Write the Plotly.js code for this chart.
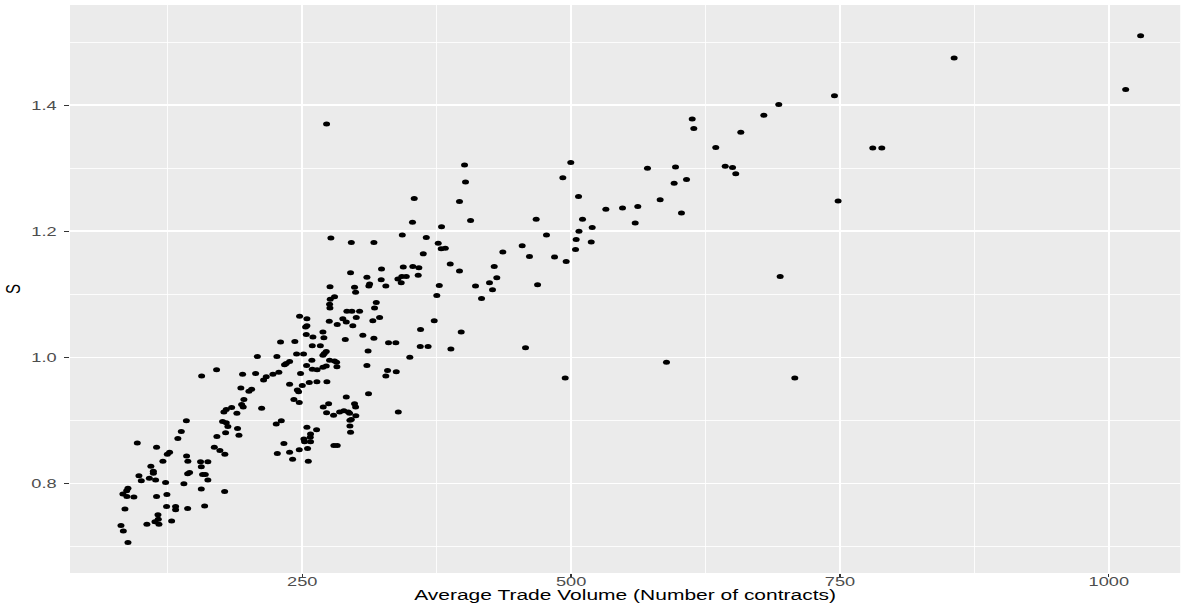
<!DOCTYPE html>
<html>
<head>
<meta charset="utf-8">
<script src="https://cdn.plot.ly/plotly-3.0.1.min.js"></script>
<style>
html,body{margin:0;padding:0;background:#fff;overflow:hidden;width:1187px;height:603px;}
#chart{width:848px;height:603px;transform:scaleX(1.4);transform-origin:0 0;}
</style>
</head>
<body>
<div id="chart"></div>
<script>
// Average trade volume (number of contracts)
const volume = [
142.2,137.5,134.3,96.6,114.5,124.5,126.6,142.4,143.6,120.4,
155.4,156.1,109.2,111.5,111.5,145.2,143.4,157.3,98.1,107.8,
100.3,113.6,122.9,139.9,87.9,86.7,83.2,86.9,93.4,114.5,
124.1,156.1,85.1,123.8,132.2,132.2,143.4,159.2,115.8,116.1,
113.0,116.7,128.5,105.5,81.4,83.6,87.9,
170.3,156.4,194.5,206.6,216.5,214.0,192.9,202.9,200.4,195.7,
193.6,195.1,184.3,179.3,177.1,189.2,212.2,175.9,179.3,180.8,
189.8,178.7,191.1,170.6,168.2,173.4,178.0,162.2,159.8,162.2,177.8,
238.2,250.0,256.5,263.6,272.9,245.4,246.6,242.2,247.2,290.9,
269.5,274.5,272.6,279.1,284.7,288.7,292.8,294.0,298.6,299.6,
299.8,294.3,295.6,294.3,294.9,225.8,230.5,254.3,263.3,257.7,
257.4,257.7,251.5,252.1,232.9,254.9,247.2,238.2,226.8,241.0,
255.6,279.4,282.5,
275.8,276.0,280.0,275.4,275.7,247.5,254.3,254.3,253.1,275.1,
269.2,253.7,259.9,270.1,229.8,243.1,259.3,266.8,272.3,270.5,
269.2,244.7,251.2,208.2,226.4,258.9,238.2,235.1,233.5,254.0,
228.2,222.7,248.4,259.3,263.8,269.2,272.3,275.4,280.0,281.9,282.2,
354.1,352.5,276.6,295.6,316.6,343.0,365.3,362.5,323.7,294.9,
343.9,352.8,358.4,357.8,310.1,323.4,338.9,342.6,346.7,342.0,
312.6,311.9,327.7,
298.6,299.6,318.8,317.2,291.5,296.1,303.3,300.2,287.7,290.9,
321.9,315.6,282.5,297.0,360.0,306.3,316.6,290.0,330.2,337.0,
359.7,367.0,311.2,350.0,310.1,329.3,337.4,327.7,
397.8,388.2,311.6,339.3,
400.9,401.8,499.7,492.3,506.9,396.2,406.5,467.5,379.5,507.3,
477.1,376.4,379.2,383.0,504.7,504.1,454.5,436.5,461.3,484.6,
495.4,387.6,396.2,428.5,430.9,
377.4,411.1,424.1,426.9,468.8,375.1,416.7,372.7,457.6,494.5,
612.6,614.1,657.8,634.5,643.3,650.1,653.1,571.0,597.1,607.3,
595.8,582.8,532.3,547.8,562.0,602.6,510.6,559.6,519.6,518.7,588.7,
1029.6,856.2,1015.7,744.9,693.1,679.2,780.5,788.9,748.3,694.4,708.0,
272.6
];
// S
const sValues = [
0.899,0.882,0.871,0.864,0.857,0.846,0.849,0.843,0.835,0.835,
0.834,0.826,0.827,0.819,0.816,0.817,0.815,0.814,0.812,0.808,
0.804,0.805,0.801,0.799,0.792,0.788,0.783,0.779,0.778,0.779,
0.782,0.791,0.759,0.763,0.763,0.758,0.760,0.764,0.750,0.743,
0.739,0.735,0.740,0.735,0.733,0.724,0.706,
0.980,0.970,0.973,0.974,0.969,0.964,0.951,0.949,0.946,0.933,
0.925,0.921,0.920,0.917,0.913,0.911,0.919,0.898,0.896,0.890,
0.887,0.880,0.876,0.874,0.857,0.852,0.846,0.834,0.814,0.805,0.787,
0.957,0.955,0.960,0.961,0.961,0.948,0.945,0.933,0.928,0.937,
0.921,0.926,0.912,0.908,0.913,0.915,0.913,0.911,0.926,0.921,
0.907,0.900,0.901,0.891,0.881,0.894,0.899,0.889,0.885,0.878,
0.873,0.866,0.870,0.866,0.863,0.855,0.853,0.849,0.847,0.838,
0.835,0.860,0.860,
1.112,1.092,1.096,1.084,1.078,1.065,1.061,1.050,1.048,1.057,
1.040,1.036,1.032,1.031,1.024,1.025,1.018,1.018,1.009,1.006,
1.003,1.005,1.005,1.001,1.001,0.995,0.993,0.990,0.988,0.987,
0.976,0.973,0.974,0.981,0.980,0.984,0.986,0.995,0.994,0.992,0.985,
1.252,1.214,1.189,1.182,1.182,1.194,1.190,1.164,1.140,1.134,
1.143,1.144,1.142,1.130,1.127,1.123,1.124,1.128,1.128,1.118,
1.116,1.113,1.113,
1.111,1.103,1.087,1.078,1.073,1.073,1.073,1.063,1.061,1.056,
1.063,1.058,1.052,1.050,1.044,1.035,1.030,1.028,1.023,1.023,
1.017,1.017,1.010,1.000,0.987,0.979,0.977,0.970,
1.040,1.013,0.942,0.913,
1.305,1.278,1.309,1.285,1.255,1.247,1.217,1.219,1.207,1.200,
1.194,1.181,1.172,1.173,1.187,1.171,1.177,1.167,1.160,1.159,
1.152,1.148,1.137,1.144,1.126,
1.114,1.113,1.118,1.107,1.115,1.098,1.093,1.058,1.015,0.967,
1.378,1.363,1.357,1.333,1.303,1.301,1.291,1.300,1.302,1.282,
1.276,1.250,1.235,1.237,1.239,1.229,1.219,1.213,1.206,1.183,0.992,
1.510,1.475,1.425,1.415,1.401,1.384,1.332,1.332,1.248,1.128,0.967,
1.370
];
const xTicks = [250, 500, 750, 1000];
const xTickLabels = ['250', '500', '750', '1000'];
const xMinor = [125, 375, 625, 875];
const yTicks = [0.8, 1.0, 1.2, 1.4];
const yTickLabels = ['0.8', '1.0', '1.2', '1.4'];
const yMinor = [0.7, 0.9, 1.1, 1.3, 1.5];
const xTitle = 'Average Trade Volume (Number of contracts)';
const yTitle = 'S';

const trace = {
  type: 'scatter', mode: 'markers',
  x: volume, y: sValues,
  marker: {color: '#000000', size: 5, line: {width: 0}},
  hoverinfo: 'skip'
};

const axisCommon = {
  tickmode: 'array',
  ticks: 'outside', ticklen: 3, tickwidth: 1, tickcolor: '#333333',
  tickfont: {size: 13, color: '#4D4D4D'},
  showgrid: true, gridcolor: '#FFFFFF', gridwidth: 1.4,
  zeroline: false, showline: false, automargin: false
};

const layout = {
  width: 848, height: 603,
  margin: {l: 50, r: 5, t: 5, b: 30, pad: 0},
  paper_bgcolor: '#FFFFFF', plot_bgcolor: '#EBEBEB',
  font: {family: 'Liberation Sans, Arial, sans-serif', color: '#000000'},
  showlegend: false,
  xaxis: Object.assign({}, axisCommon, {
    range: [34, 1066.4],
    tickvals: xTicks, ticktext: xTickLabels,
    ticklabelstandoff: -7,
    minor: {tickmode: 'array', tickvals: xMinor, showgrid: true, gridcolor: '#FFFFFF', gridwidth: 0.7, ticks: ''},
    title: {text: xTitle, font: {size: 15, color: '#000000'}, standoff: 12}
  }),
  yaxis: Object.assign({}, axisCommon, {
    range: [0.6575, 1.559],
    tickvals: yTicks, ticktext: yTickLabels,
    ticklabelstandoff: 3,
    minor: {tickmode: 'array', tickvals: yMinor, showgrid: true, gridcolor: '#FFFFFF', gridwidth: 0.7, ticks: ''},
    title: {text: yTitle, font: {size: 15, color: '#000000'}, standoff: 8}
  })
};

Plotly.newPlot('chart', [trace], layout, {displayModeBar: false, staticPlot: true});
</script>
</body>
</html>
